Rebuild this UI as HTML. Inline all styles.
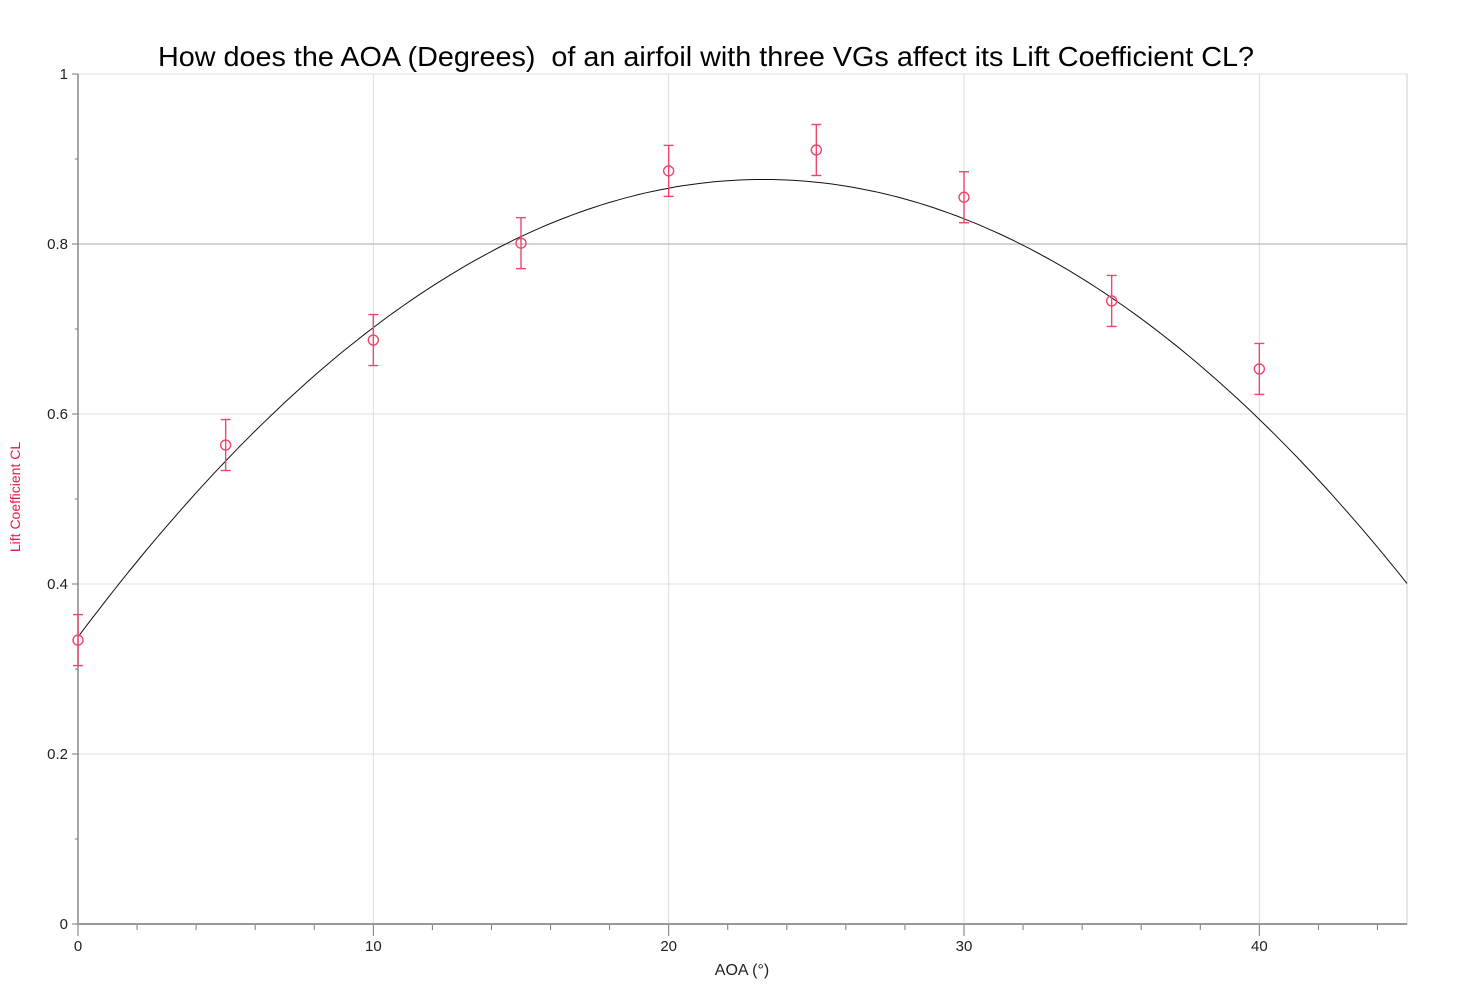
<!DOCTYPE html>
<html><head><meta charset="utf-8"><style>
body{margin:0;background:#fff;width:1477px;height:994px;overflow:hidden;font-family:"Liberation Sans",Arial,sans-serif}
</style></head><body>
<svg id="chart" width="1477" height="994" xmlns="http://www.w3.org/2000/svg">
<text x="158" y="66" textLength="1096" lengthAdjust="spacingAndGlyphs" font-size="28" fill="#000" style="white-space:pre">How does the AOA (Degrees)  of an airfoil with three VGs affect its Lift Coefficient CL?</text>
<text x="742" y="975" text-anchor="middle" font-size="16" fill="#222">AOA (°)</text>
<text transform="translate(20,497) rotate(-90)" text-anchor="middle" font-size="14" fill="#e8194a">Lift Coefficient CL</text>
<g id="grid"></g><g id="axes"></g><g id="fit"></g><g id="points"></g>
</svg>
<script>
const xTicks=[0,10,20,30,40];
const yTicks=[0,0.2,0.4,0.6,0.8,1];
const yTickLabels=["0","0.2","0.4","0.6","0.8","1"];
const aoa=[0,5,10,15,20,25,30,35,40];
const cl=[0.334,0.5635,0.687,0.801,0.886,0.9106,0.855,0.733,0.653];
const clErr=[0.03,0.03,0.03,0.03,0.03,0.03,0.03,0.03,0.03];
const fitCoef=[0.3377,0.0464,-0.001];
const L=78,R=1407,T=74,B=924,XMAX=45;
const sx=v=>L+v/XMAX*(R-L), sy=v=>B-v*(B-T);
const NS="http://www.w3.org/2000/svg";
function mk(p,tag,at){const e=document.createElementNS(NS,tag);for(const k in at)e.setAttribute(k,at[k]);p.appendChild(e);return e;}
const g=document.getElementById('grid'),ax=document.getElementById('axes'),fit=document.getElementById('fit'),pts=document.getElementById('points');
mk(g,'rect',{x:L,y:T,width:R-L,height:B-T,fill:'none',stroke:'#ccc'});
xTicks.forEach(t=>{const l=mk(g,'line',{x1:sx(t),x2:sx(t),y1:T,y2:B,stroke:'#ddd'});

const tx=mk(ax,'text',{x:sx(t),y:B+27,'text-anchor':'middle','font-size':15,fill:'#222'});tx.textContent=t;
});
for(let v=0;v<=XMAX;v+=2){mk(ax,'line',{x1:sx(v),x2:sx(v),y1:B,y2:B+(v%10==0?12:6),stroke:'#777'});}
yTicks.forEach((t,i)=>{const l=mk(g,'line',{x1:L,x2:R,y1:sy(t),y2:sy(t),stroke:t==0.8?'#aaa':'#ddd'});

const tx=mk(ax,'text',{x:L-10,y:sy(t)+5,'text-anchor':'end','font-size':15,fill:'#222'});tx.textContent=yTickLabels[i];

mk(ax,'line',{x1:L-6,x2:L,y1:sy(t),y2:sy(t),stroke:'#777'});});
for(let v=0.1;v<1;v+=0.2){mk(ax,'line',{x1:L-3,x2:L,y1:sy(v),y2:sy(v),stroke:'#777'});}
mk(ax,'line',{x1:L,x2:L,y1:T,y2:B,stroke:'#888','stroke-width':1.5});
mk(ax,'line',{x1:L,x2:R,y1:B,y2:B,stroke:'#999','stroke-width':2});
let d='';for(let x=0;x<=XMAX;x+=0.25){const y=fitCoef[0]+fitCoef[1]*x+fitCoef[2]*x*x;d+=(d?'L':'M')+sx(x).toFixed(1)+','+sy(y).toFixed(1);}
const fp=mk(fit,'path',{d:d,fill:'none',stroke:'#111','stroke-width':1});

aoa.forEach((x,i)=>{const gg=mk(pts,'g',{stroke:'#f0456e',fill:'none','stroke-width':1.4});

const cx=sx(x),cy=sy(cl[i]),y1=sy(cl[i]+clErr[i]),y2=sy(cl[i]-clErr[i]);
mk(gg,'line',{x1:cx,x2:cx,y1:y1,y2:y2});mk(gg,'line',{x1:cx-5,x2:cx+5,y1:y1,y2:y1});mk(gg,'line',{x1:cx-5,x2:cx+5,y1:y2,y2:y2});
mk(gg,'circle',{cx:cx,cy:cy,r:5});});
</script>
</body></html>
